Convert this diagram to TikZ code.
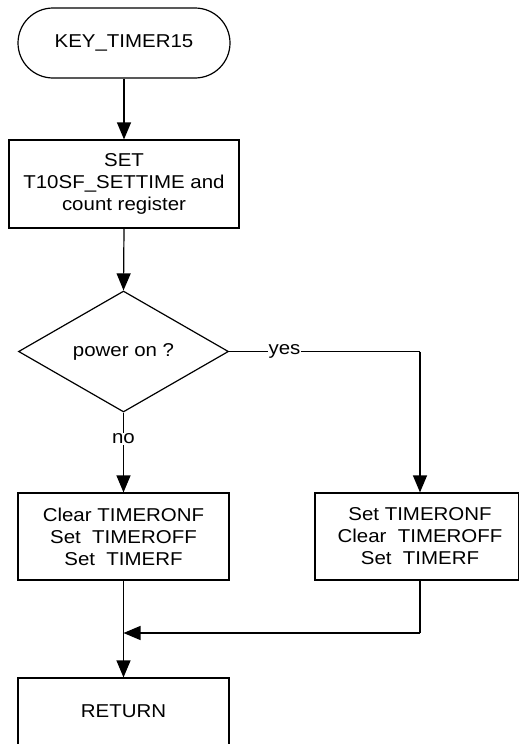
\documentclass[tikz,border=0pt]{standalone}
\usepackage{fontspec}
\setmainfont[FakeStretch=1.1]{Liberation Sans}
\usetikzlibrary{shapes.geometric,arrows.meta}
\begin{document}
\begin{tikzpicture}[x=1pt,y=-1pt,
  every node/.style={font=\fontsize{18.6}{22}\selectfont, align=center},
  box/.style={draw, line width=1.2pt, minimum width=211pt, minimum height=87pt, inner sep=0pt},
  term/.style={draw, line width=1.2pt, rounded corners=35pt, minimum width=212pt, minimum height=70pt, inner sep=0pt},
  dec/.style={draw, line width=1.2pt, diamond, aspect=1.736, minimum width=210pt, minimum height=121pt, inner sep=0pt},
  conn/.style={line width=1.2pt, -{Triangle[length=17pt,width=14pt]}},
  plain/.style={line width=1.2pt},
  lbl/.style={fill=white, inner sep=1pt}]
\useasboundingbox (0,0) rectangle (519,744);
\node[term] (start) at (124,43) {KEY\_TIMER15};
\node[box, minimum width=230pt, minimum height=88pt] (b1) at (124,184) {SET\\T10SF\_SETTIME and\\count register};
\node[dec] (d) at (123.5,351.5) {power on ?};
\node[box] (lb) at (123.5,536.5) {Clear TIMERONF\\Set\ \ TIMEROFF\\Set\ \ TIMERF};
\node[box, minimum width=203.5pt] (rb) at (416.75,536.5) {};
\node (rt) at (420,536.5) {Set TIMERONF\\Clear\ \ TIMEROFF\\Set\ \ TIMERF};
\node[box, minimum height=67pt] (ret) at (123.5,711.5) {RETURN};
\coordinate (yc) at (420,351.5);
\coordinate (rc) at (420,633);
\coordinate (m) at (123.5,633);
\draw[conn] (start.south) -- (b1.south |- b1.north);
\draw[conn] (b1.south) -- (d.north);
\draw[plain] (d.east) -- node[lbl, pos=0.29] {yes} (yc);
\draw[conn] (yc) -- (rb.north -| yc);
\draw[conn] (d.south) -- node[lbl, pos=0.33] {no} (lb.north);
\draw[conn] (lb.south) -- (ret.north);
\draw[plain] (rb.south -| rc) -- (rc);
\draw[conn] (rc) -- (m);
\end{tikzpicture}
\end{document}
